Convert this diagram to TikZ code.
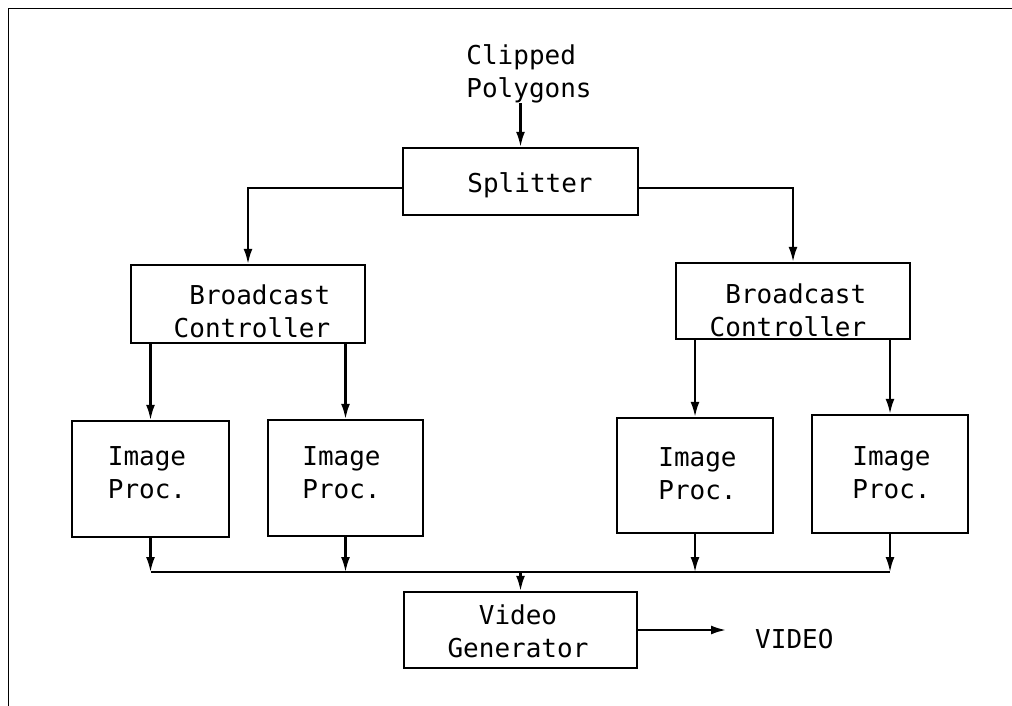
\documentclass[tikz,border=0pt]{standalone}
\usepackage{fontspec}
\setmonofont{DejaVu Sans Mono}
\usetikzlibrary{arrows.meta}
\begin{document}
\begin{tikzpicture}[x=1pt,y=-1pt,
  box/.style={draw, line width=2.4pt, inner sep=0pt},
  txt/.style={font=\ttfamily\fontsize{26}{33}\selectfont, inner sep=0pt},
  wire/.style={line width=2.1pt},
  arr/.style={wire, -{Latex[length=15pt,width=9pt]}},
  frame/.style={line width=1.6pt}]
\useasboundingbox (0,0) rectangle (1012,706);

% open frame: top and left edges only
\draw[frame] (8.5,706) -- (8.5,8.5) -- (1012,8.5);

% boxes
\node[box, minimum width=235pt, minimum height=67pt] (spl) at (520.5,181.5) {};
\node[box, minimum width=234pt, minimum height=78pt] (bcL) at (248,304) {};
\node[box, minimum width=234pt, minimum height=76pt] (bcR) at (793,301) {};
\node[box, minimum width=157pt, minimum height=116pt] (ip1) at (150.5,479) {};
\node[box, minimum width=155pt, minimum height=116pt] (ip2) at (345.5,478) {};
\node[box, minimum width=156pt, minimum height=115pt] (ip3) at (695,475.5) {};
\node[box, minimum width=156pt, minimum height=118pt] (ip4) at (890,474) {};
\node[box, minimum width=233pt, minimum height=76pt] (vg) at (520.5,630) {};

% labels
\node[txt, align=left] (clip) at (529,74) {Clipped\\Polygons};
\node[txt, anchor=base] (splt) at (530,193) {Splitter};
\node[txt, align=right] (bcLt) at (252,311.5) {Broadcast\\Controller};
\node[txt, align=right] (bcRt) at (788,310.5) {Broadcast\\Controller};
\node[txt, align=center] (ip1t) at (147,473) {Image\\Proc.};
\node[txt, align=center] (ip2t) at (341.5,473) {Image\\Proc.};
\node[txt, align=center] (ip3t) at (697.5,473.5) {Image\\Proc.};
\node[txt, align=center] (ip4t) at (891.5,473) {Image\\Proc.};
\node[txt, align=center] (vgt) at (518,631) {Video\\Generator};
\node[txt, anchor=base west] (video) at (755,648) {VIDEO};

% connectors
\coordinate (bus) at (520,572);
\coordinate (vout) at (726,630);

\draw[arr] (clip.south -| spl.north) -- (spl.north);
\draw[arr] ([yshift=-6.5pt]spl.west) -| (bcL.north);
\draw[arr] ([yshift=-6.5pt]spl.east) -| (bcR.north);

\draw[arr] (bcL.south -| ip1.north) -- (ip1.north);
\draw[arr] (bcL.south -| ip2.north) -- (ip2.north);
\draw[arr] (bcR.south -| ip3.north) -- (ip3.north);
\draw[arr] (bcR.south -| ip4.north) -- (ip4.north);

\draw[wire] (ip1.south |- bus) -- (ip4.south |- bus);
\foreach \n in {ip1,ip2,ip3,ip4}
  \draw[arr] (\n.south) -- (\n.south |- bus);

\draw[arr] (vg.north |- bus) -- (vg.north);
\draw[arr] (vg.east) -- (vout);
\end{tikzpicture}
\end{document}
